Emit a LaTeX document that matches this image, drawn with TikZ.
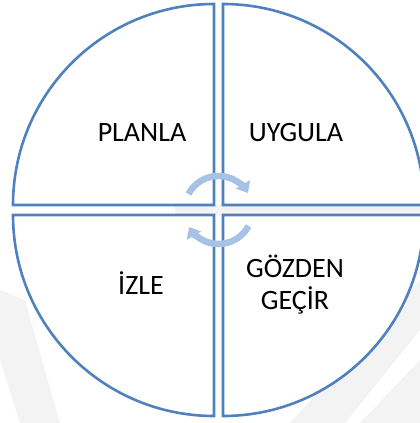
\documentclass[tikz,border=0pt]{standalone}
\usepackage{fontspec}
\setmainfont{Carlito}
\usetikzlibrary{arrows.meta}
\definecolor{qblue}{RGB}{79,129,189}
\definecolor{arrblue}{RGB}{167,194,228}
\definecolor{wmark}{RGB}{243,243,243}
\tikzset{
  quad/.style={draw=qblue, line width=2.6pt, fill=white, line join=miter},
  lbl/.style={font=\fontsize{28}{32}\selectfont, text=black, align=center, inner sep=0pt},
  cyc/.style={draw=arrblue, line width=6.5pt, -{Triangle[width=16pt,length=10pt]}},
  wm/.style={fill=wmark, draw=none}
}
\begin{document}
\begin{tikzpicture}[x=1pt,y=1pt]
\useasboundingbox (0,0) rectangle (420,423);
\clip (0,0) rectangle (420,423);
% faint watermark
\fill[wm] (290,0) -- (420,143) -- (420,93) -- (345,0) -- cycle;
\fill[wm] (360,0) -- (420,63) -- (420,0) -- cycle;
\fill[wm] (0,133) -- (25,123) -- (60,0) -- (20,0) -- (0,63) -- cycle;
\fill[wm] (175,208) rectangle (420,218);
% quadrants
\coordinate (ctl) at (214,218);
\coordinate (ctr) at (223,218);
\coordinate (cbl) at (214,208);
\coordinate (cbr) at (223,208);
\draw[quad] (ctl) -- ++(0,201) arc[start angle=90,end angle=180,radius=201] -- cycle;
\draw[quad] (ctr) -- ++(201,0) arc[start angle=0,end angle=90,radius=201] -- cycle;
\draw[quad] (cbl) -- ++(-201,0) arc[start angle=180,end angle=270,radius=201] -- cycle;
\draw[quad] (cbr) -- ++(0,-201) arc[start angle=270,end angle=360,radius=201] -- cycle;
% center cycle arrows
\coordinate (cc) at (218.5,213);
\draw[cyc] ([shift={(152:34)}]cc) arc[start angle=152,end angle=30,radius=34];
\draw[cyc] ([shift={(-28:34)}]cc) arc[start angle=-28,end angle=-150,radius=34];
% labels
\node[lbl, anchor=base] (planla) at (142,281) {PLANLA};
\node[lbl, anchor=base] (uygula) at (296,281) {UYGULA};
\node[lbl, anchor=base] (izle) at (141,128) {İZLE};
\node[lbl, anchor=base] (gozden) at (295,113) {GÖZDEN\\GEÇİR};
\end{tikzpicture}
\end{document}
